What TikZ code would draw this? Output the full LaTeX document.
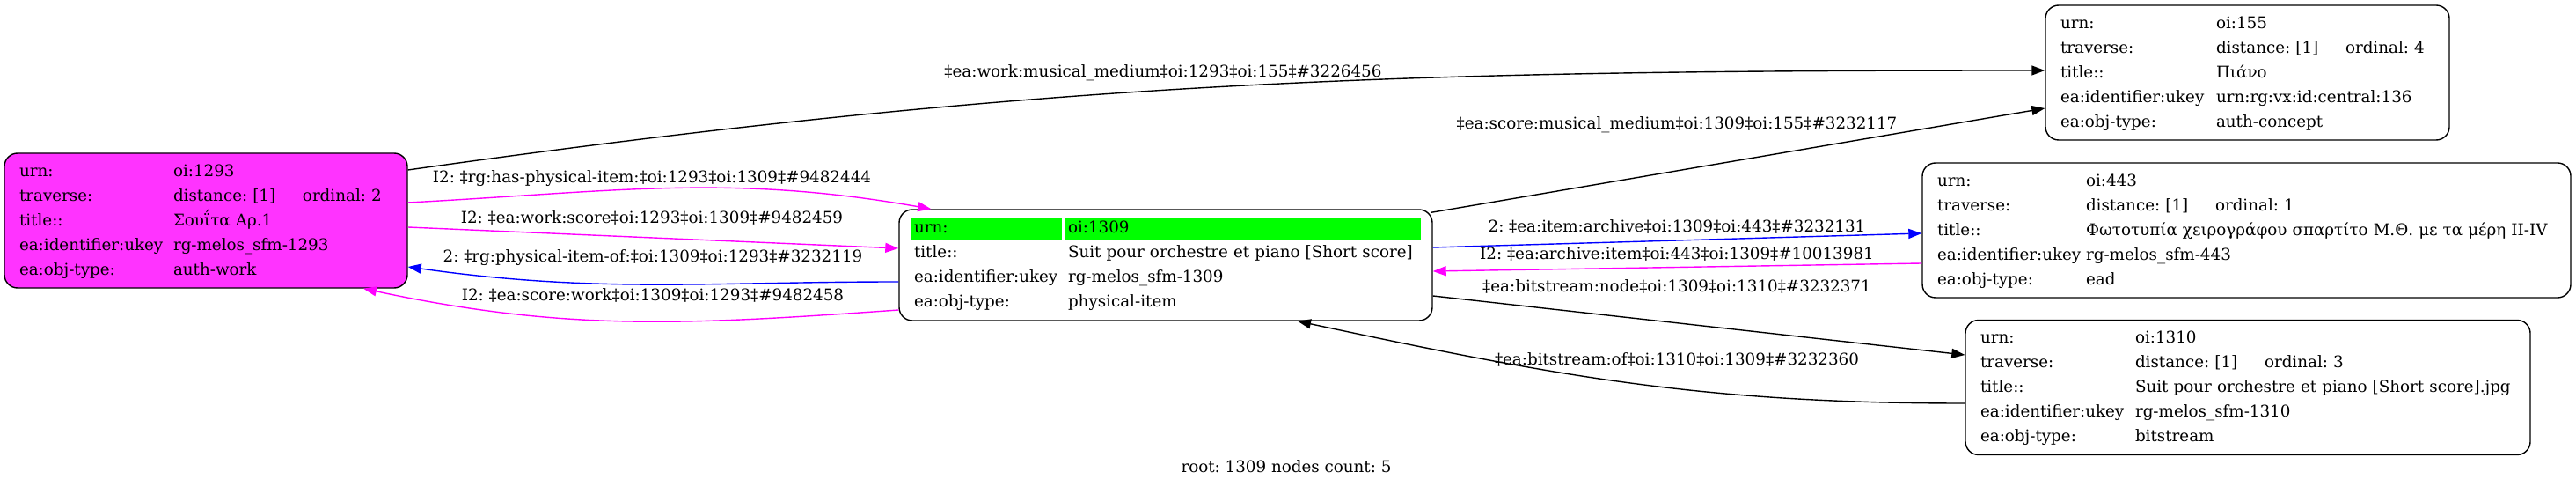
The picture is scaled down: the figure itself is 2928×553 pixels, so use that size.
\documentclass[tikz,border=0pt]{standalone}
\usepackage{fontspec}
\setmainfont{DejaVu Serif}
\usepackage{array}
\usetikzlibrary{arrows.meta}
\definecolor{workfill}{HTML}{FF33FF}
\definecolor{edgemagenta}{HTML}{FF00FF}
\definecolor{edgeblue}{HTML}{0000FF}
\definecolor{urngreen}{HTML}{00FF00}
\frenchspacing

\begin{document}
\begin{tikzpicture}[x=1pt,y=1pt,
  every node/.style={font=\fontsize{18.3}{28}\selectfont},
  rec/.style={draw,rounded corners=15pt,line width=1.4pt,fill=white,inner xsep=17pt,inner ysep=6.5pt,align=left},
  lab/.style={inner sep=0pt},
  link/.style={line width=1.4pt,-{Triangle[length=15pt,width=11pt]}}]
  \useasboundingbox (0,0) rectangle (2928,-553);
  % records
  \node[rec,fill=workfill,text width=424pt] (n1293) at (234,-250.5) {\begin{tabular}{@{}p{175pt}@{}l@{}}
    urn: & oi:1293\\
    traverse: & \makebox[147pt][l]{distance: [1]}ordinal: 2\\
    title:: & Σουΐτα Αρ.1\\
    ea:identifier:ukey & rg-melos\_sfm-1293\\
    ea:obj-type: & auth-work
  \end{tabular}};
  \node[rec,text width=572pt,inner ysep=7pt,path picture={
      \fill[urngreen,sharp corners] ([xshift=13pt,yshift=-9pt]path picture bounding box.north west) rectangle ++(172,-25);
      \fill[urngreen,sharp corners] ([xshift=188pt,yshift=-9pt]path picture bounding box.north west) rectangle ++(405,-25);}]
    (n1309) at (1325,-301) {\begin{tabular}{@{}p{175pt}@{}l@{}}
    urn: & oi:1309\\
    title:: & Suit pour orchestre et piano [Short score]\\
    ea:identifier:ukey & rg-melos\_sfm-1309\\
    ea:obj-type: & physical-item
  \end{tabular}};
  \node[rec,text width=425pt] (n155) at (2554.5,-82.5) {\begin{tabular}{@{}p{177pt}@{}l@{}}
    urn: & oi:155\\
    traverse: & \makebox[147pt][l]{distance: [1]}ordinal: 4\\
    title:: & Πιάνο\\
    ea:identifier:ukey & urn:rg:vx:id:central:136\\
    ea:obj-type: & auth-concept
  \end{tabular}};
  \node[rec,text width=703pt] (n443) at (2553.5,-261.5) {\begin{tabular}{@{}p{169pt}@{}l@{}}
    urn: & oi:443\\
    traverse: & \makebox[147pt][l]{distance: [1]}ordinal: 1\\
    title:: & Φωτοτυπία χειρογράφου σπαρτίτο Μ.Θ. με τα μέρη II-IV\\
    ea:identifier:ukey & rg-melos\_sfm-443\\
    ea:obj-type: & ead
  \end{tabular}};
  \node[rec,text width=608pt] (n1310) at (2555,-440) {\begin{tabular}{@{}p{176pt}@{}l@{}}
    urn: & oi:1310\\
    traverse: & \makebox[147pt][l]{distance: [1]}ordinal: 3\\
    title:: & Suit pour orchestre et piano [Short score].jpg\\
    ea:identifier:ukey & rg-melos\_sfm-1310\\
    ea:obj-type: & bitstream
  \end{tabular}};
  % links
  \draw[link] ([yshift=57.5pt]n1293.east) .. controls +(8:730) and +(180:730) .. ([yshift=2.5pt]n155.west);
  \draw[link] ([xshift=-2pt,yshift=-4pt]n1309.north east)--([yshift=-40.5pt]n155.west);
  \draw[link,edgemagenta] ([yshift=20.5pt]n1293.east) .. controls +(3:233) and +(170:233) .. ([xshift=37pt]n1309.north west);
  \draw[link,edgemagenta] ([yshift=-7.5pt]n1293.east)--([yshift=19pt]n1309.west);
  \draw[link,edgeblue] ([yshift=-19pt]n1309.west) .. controls +(180:218) and +(-8:218) .. ([yshift=-52.5pt]n1293.east);
  \draw[link,edgemagenta] ([yshift=-51pt]n1309.west) .. controls +(184:238) and +(-12:238) .. ([xshift=179pt]n1293.south);
  \draw[link,edgeblue] ([yshift=20pt]n1309.east)--([yshift=-3.5pt]n443.west);
  \draw[link,edgemagenta] ([yshift=-37.5pt]n443.west)--([yshift=-7pt]n1309.east);
  \draw[link] ([yshift=-35pt]n1309.east)--([yshift=37pt]n1310.west);
  \draw[link] ([yshift=-18pt]n1310.west) .. controls +(180:299) and +(-12:299) .. ([xshift=150pt]n1309.south);
  % link labels
  \node[lab] (l1) at (1322,-83) {‡ea:work:musical\_medium‡oi:1293‡oi:155‡\#3226456};
  \node[lab] (l2) at (1906,-142) {‡ea:score:musical\_medium‡oi:1309‡oi:155‡\#3232117};
  \node[lab] (l3) at (741,-203) {I2: ‡rg:has-physical-item:‡oi:1293‡oi:1309‡\#9482444};
  \node[lab] (l4) at (741,-247) {I2: ‡ea:work:score‡oi:1293‡oi:1309‡\#9482459};
  \node[lab] (l5) at (742,-293) {2: ‡rg:physical-item-of:‡oi:1309‡oi:1293‡\#3232119};
  \node[lab] (l6) at (742,-335) {I2: ‡ea:score:work‡oi:1309‡oi:1293‡\#9482458};
  \node[lab] (l7) at (1906,-257) {2: ‡ea:item:archive‡oi:1309‡oi:443‡\#3232131};
  \node[lab] (l8) at (1906,-288) {I2: ‡ea:archive:item‡oi:443‡oi:1309‡\#10013981};
  \node[lab] (l9) at (1906,-325) {‡ea:bitstream:node‡oi:1309‡oi:1310‡\#3232371};
  \node[lab] (l10) at (1906,-408) {‡ea:bitstream:of‡oi:1310‡oi:1309‡\#3232360};
  \node[lab] (count) at (1462,-530) {root: 1309 nodes count: 5};
\end{tikzpicture}
\end{document}
